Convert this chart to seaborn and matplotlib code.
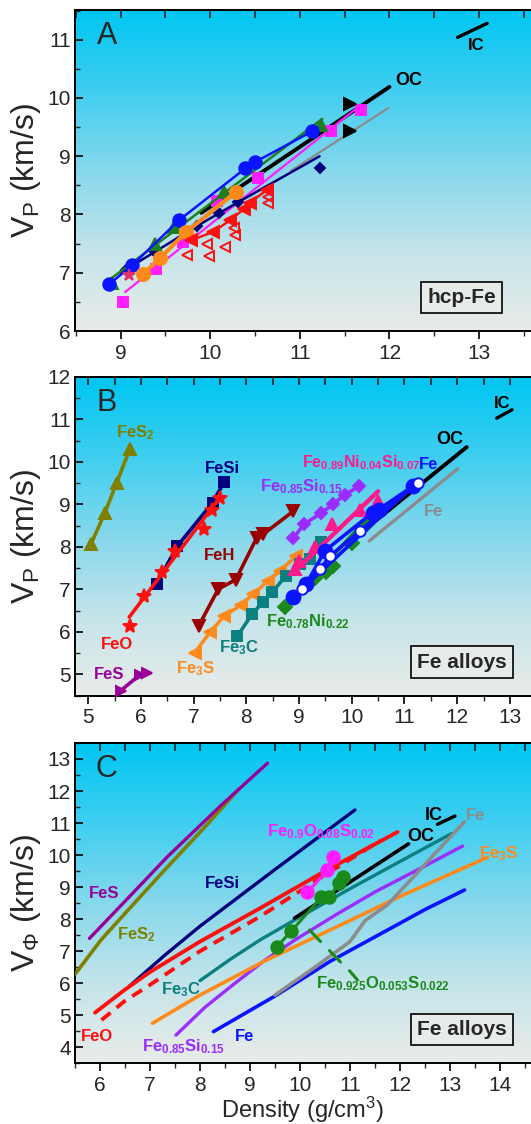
import numpy as np
import matplotlib
matplotlib.use('Agg')
import matplotlib.pyplot as plt
from matplotlib.colors import LinearSegmentedColormap
from matplotlib.ticker import MultipleLocator
import seaborn as sns

sns.set_theme(style='ticks')
plt.rcParams['font.family'] = ['Liberation Sans', 'DejaVu Sans']
plt.rcParams['mathtext.fontset'] = 'custom'
plt.rcParams['mathtext.rm'] = 'Liberation Sans'
plt.rcParams['mathtext.bf'] = 'Liberation Sans:bold'
plt.rcParams['mathtext.it'] = 'Liberation Sans:italic'
plt.rcParams['mathtext.default'] = 'bf'

# ---------------- Panel A: hcp-Fe ----------------
a_blue_x = [8.87, 9.13, 9.65, 10.39, 10.50, 11.14]
a_blue_y = [6.80, 7.13, 7.90, 8.79, 8.90, 9.43]
a_green_line_x = [8.85, 11.25]
a_green_line_y = [6.85, 9.64]
a_green_x = [8.90, 9.38, 9.60, 10.15, 11.24]
a_green_y = [6.82, 7.50, 7.79, 8.39, 9.53]
a_mag_x = [9.03, 9.39, 9.70, 10.08, 10.53, 11.35, 11.68]
a_mag_y = [6.49, 7.06, 7.52, 8.23, 8.62, 9.43, 9.79]
a_mag_line_x = [9.05, 11.68]
a_mag_line_y = [6.67, 9.88]
a_orange_x = [9.25, 9.44, 9.73, 10.29]
a_orange_y = [6.98, 7.25, 7.70, 8.39]
a_navy_x = [9.06, 9.37, 9.85, 10.10, 10.31]
a_navy_y = [7.05, 7.37, 7.80, 8.03, 8.22]
a_navy_line_x = [9.00, 9.85, 10.31, 11.22]
a_navy_line_y = [7.00, 7.80, 8.21, 9.00]
a_navy_extra_x = [11.22]
a_navy_extra_y = [8.79]
a_black_tri_x = [11.56, 11.56]
a_black_tri_y = [9.89, 9.44]
a_red_x = [9.79, 10.03, 10.22, 10.38, 10.44, 10.63]
a_red_y = [7.56, 7.70, 7.90, 8.10, 8.20, 8.42]
a_red_open_x = [9.74, 9.96, 9.99, 10.17, 10.27, 10.28, 10.65, 10.65]
a_red_open_y = [7.30, 7.49, 7.29, 7.45, 7.76, 7.65, 8.30, 8.19]
a_star_x = [9.09]
a_star_y = [6.97]
a_oc_x = [9.90, 12.00]
a_oc_y = [8.03, 10.19]
a_gray_x = [10.90, 11.99]
a_gray_y = [8.75, 9.83]
a_ic_x = [12.76, 13.09]
a_ic_y = [11.04, 11.28]

# ---------------- Panel B: Fe alloys, Vp ----------------
b_fes2_x = [5.05, 5.32, 5.54, 5.79]
b_fes2_y = [8.06, 8.81, 9.51, 10.30]
b_fesi_x = [6.30, 6.69, 7.36, 7.575]
b_fesi_y = [7.13, 8.02, 9.04, 9.52]
b_feo_x = [5.80, 6.06, 6.41, 6.645, 7.195, 7.34, 7.51]
b_feo_y = [6.15, 6.84, 7.40, 7.91, 8.43, 8.88, 9.16]
b_feo_line_x = [5.78, 7.52]
b_feo_line_y = [6.35, 9.20]
b_fes_x = [5.62, 5.98, 6.11]
b_fes_y = [4.62, 4.99, 5.04]
b_feh_x = [7.10, 7.47, 7.80, 8.20, 8.32, 8.89]
b_feh_y = [6.15, 7.01, 7.23, 8.22, 8.30, 8.84]
b_fe3s_x = [7.02, 7.31, 7.58, 7.89, 8.13, 8.41, 8.64, 8.95]
b_fe3s_y = [5.51, 5.99, 6.37, 6.63, 6.89, 7.20, 7.44, 7.79]
b_fe3c_x = [7.83, 8.11, 8.32, 8.49, 8.75, 9.02, 9.20, 9.41]
b_fe3c_y = [5.90, 6.42, 6.71, 6.93, 7.32, 7.59, 7.71, 8.12]
b_fenisi_x = [8.92, 9.00, 9.30, 9.62, 10.16, 10.50]
b_fenisi_y = [7.48, 7.67, 7.99, 8.53, 8.88, 9.08]
b_fenisi_line_x = [8.90, 10.50]
b_fenisi_line_y = [7.40, 9.31]
b_fesi15_x = [8.89, 9.09, 9.41, 9.64, 9.87, 10.14]
b_fesi15_y = [8.20, 8.53, 8.79, 9.00, 9.23, 9.43]
b_fe_x = [8.89, 9.14, 9.49, 10.40, 10.51, 11.16]
b_fe_y = [6.81, 7.13, 7.91, 8.81, 8.88, 9.43]
b_fe_open_x = [9.06, 9.40, 9.59, 10.15, 11.26]
b_fe_open_y = [7.01, 7.48, 7.79, 8.37, 9.51]
b_feni_x = [8.73, 9.30, 9.52, 9.65, 10.00, 10.28]
b_feni_y = [6.58, 7.28, 7.40, 7.55, 8.10, 8.53]
b_feni_line_x = [8.70, 10.40]
b_feni_line_y = [6.55, 8.80]
b_oc_x = [9.90, 12.18]
b_oc_y = [8.06, 10.35]
b_gray_x = [10.33, 12.01]
b_gray_y = [8.14, 9.84]
b_ic_x = [12.75, 13.04]
b_ic_y = [11.03, 11.23]

# ---------------- Panel C: Fe alloys, V_phi ----------------
c_fes_x = [5.79, 6.60, 7.35, 8.40, 9.35]
c_fes_y = [7.40, 8.72, 9.95, 11.52, 12.87]
c_fes2_x = [5.50, 6.02, 6.70, 7.35, 8.10, 8.77]
c_fes2_y = [6.28, 7.35, 8.52, 9.63, 10.88, 12.05]
c_fesi_x = [6.59, 7.30, 8.00, 9.50, 11.10]
c_fesi_y = [5.91, 6.88, 7.78, 9.55, 11.41]
c_feo_x = [5.90, 6.50, 7.00, 8.00, 9.20, 10.50, 11.95]
c_feo_y = [5.08, 5.80, 6.35, 7.30, 8.34, 9.50, 10.72]
c_feo_dash_x = [6.03, 6.50, 7.00, 8.00, 9.20, 10.40, 11.60]
c_feo_dash_y = [4.85, 5.45, 5.95, 7.00, 8.08, 9.28, 10.45]
c_fe3c_x = [8.00, 8.60, 9.20, 10.00, 11.00, 12.00, 13.03]
c_fe3c_y = [6.08, 6.74, 7.35, 8.07, 8.95, 9.80, 10.67]
c_fesi15_x = [7.52, 8.10, 8.70, 9.30, 9.90, 10.70, 11.50, 12.40, 13.25]
c_fesi15_y = [4.38, 5.25, 6.00, 6.72, 7.35, 8.12, 8.85, 9.58, 10.28]
c_fe3s_x = [7.05, 8.00, 9.30, 10.60, 12.10, 13.75]
c_fe3s_y = [4.75, 5.63, 6.70, 7.66, 8.78, 9.93]
c_fe_x = [8.27, 9.50, 10.60, 11.75, 12.50, 13.29]
c_fe_y = [4.49, 5.60, 6.68, 7.66, 8.30, 8.91]
c_gray_x = [9.50, 10.30, 11.00, 11.30, 11.75, 12.20, 12.70, 13.29]
c_gray_y = [5.63, 6.50, 7.30, 7.95, 8.45, 9.20, 10.05, 11.04]
c_oc_x = [9.89, 12.17]
c_oc_y = [8.03, 10.35]
c_ic_x = [12.75, 13.10]
c_ic_y = [10.96, 11.22]
c_feos_x = [10.15, 10.55, 10.67]
c_feos_y = [8.84, 9.53, 9.95]
c_feos2_x = [9.54, 9.82, 10.43, 10.59, 10.79, 10.86]
c_feos2_y = [7.14, 7.62, 8.68, 8.70, 9.14, 9.32]
c_tick1_x = [10.19, 10.41]
c_tick1_y = [7.66, 7.30]
c_tick2_x = [10.59, 10.81]
c_tick2_y = [7.02, 6.66]
c_tick3_x = [10.99, 11.15]
c_tick3_y = [6.39, 6.10]

BLUE = '#0a14ff'
GREEN = '#1f7f1f'
NAVY = '#00007f'
MAG = '#ff1cff'
ORANGE = '#ff8a1c'
RED = '#ff1010'
GRAY = '#8c8c8c'
OLIVE = '#808000'
PURPLE = '#990099'
DRED = '#990000'
TEAL = '#0b8080'
PINK = '#ff1a8c'
VIOLET = '#9b2cff'
FGREEN = '#1a8a1a'

bg = LinearSegmentedColormap.from_list(
    'bg', ['#e9ece8', '#c4e4ea', '#86d8ec', '#3fcef0', '#00c6f2'])


def curve(ax, x, y, color, lw=2.0, ls='-', marker=None, ms=7, mfc=None, z=3):
    sns.lineplot(x=x, y=y, ax=ax, color=color, lw=lw, ls=ls, marker=marker,
                 ms=ms, mfc=color if mfc is None else mfc, mec=color, mew=1.4,
                 estimator=None, sort=False, legend=False, zorder=z)


def label(ax, x, y, s, color, size=12, ha='left'):
    ax.text(x, y, s, color=color, fontsize=size, fontweight='bold',
            family='Liberation Sans', ha=ha, va='center', zorder=6)


def style_axes(ax, xlim, ylim, letter, boxtext, ylabel):
    ax.imshow(np.linspace(0, 1, 256)[:, None], extent=[0, 1, 0, 1],
              transform=ax.transAxes, aspect='auto', cmap=bg, origin='lower',
              zorder=0)
    ax.set_xlim(*xlim)
    ax.set_ylim(*ylim)
    ax.xaxis.set_major_locator(MultipleLocator(1))
    ax.xaxis.set_minor_locator(MultipleLocator(0.5))
    ax.yaxis.set_major_locator(MultipleLocator(1))
    ax.yaxis.set_minor_locator(MultipleLocator(0.5))
    ax.tick_params(axis='both', which='major', labelsize=15, length=6,
                   width=1.2, color='black', pad=3)
    ax.tick_params(axis='both', which='minor', length=3.5, width=1.0)
    ax.tick_params(axis='y', which='both', direction='in')
    ax.tick_params(axis='x', which='both', direction='out', top=False)
    for sp in ['left', 'bottom', 'top']:
        ax.spines[sp].set_linewidth(1.4)
        ax.spines[sp].set_color('black')
    ax.spines['right'].set_visible(False)
    # inward ticks along the top edge
    top = ax.secondary_xaxis('top')
    top.xaxis.set_major_locator(MultipleLocator(1))
    top.xaxis.set_minor_locator(MultipleLocator(0.5))
    top.tick_params(which='both', direction='in', labeltop=False, width=1.2)
    top.tick_params(which='major', length=6)
    top.tick_params(which='minor', length=6)
    top.spines['top'].set_linewidth(1.4)
    ax.set_ylabel(ylabel, fontsize=23, labelpad=3)
    ax.text(0.07, 0.918, letter, transform=ax.transAxes, fontsize=22,
            family='Liberation Sans', ha='center', va='center', zorder=6)
    ax.text(0.848, 0.105, boxtext, transform=ax.transAxes, fontsize=15,
            fontweight='bold', family='Liberation Sans', ha='center',
            va='center', zorder=6,
            bbox=dict(boxstyle='square,pad=0.3', fc='#e8ece8', ec='black', lw=1.2))


fig = plt.figure(figsize=(5.31, 11.24), dpi=100)
axA = fig.add_axes([0.1412, 0.7055, 0.8588, 0.2856])
axB = fig.add_axes([0.1412, 0.3811, 0.8588, 0.2835])
axC = fig.add_axes([0.1412, 0.0540, 0.8588, 0.2850])

# ---- A ----
style_axes(axA, (8.49, 13.58), (6, 11.51), 'A', 'hcp-Fe', r'V$_{\mathrm{P}}$ (km/s)')
curve(axA, a_gray_x, a_gray_y, GRAY, lw=1.6)
curve(axA, a_oc_x, a_oc_y, 'black', lw=2.8)
curve(axA, a_ic_x, a_ic_y, 'black', lw=2.4)
curve(axA, a_mag_line_x, a_mag_line_y, MAG, lw=1.6)
curve(axA, a_mag_x, a_mag_y, MAG, lw=0, marker='s', ms=7)
curve(axA, a_navy_line_x, a_navy_line_y, NAVY, lw=1.8)
curve(axA, a_navy_x, a_navy_y, NAVY, lw=0, marker='D', ms=5.5)
curve(axA, a_navy_extra_x, a_navy_extra_y, NAVY, lw=0, marker='D', ms=5.5)
curve(axA, a_green_line_x, a_green_line_y, GREEN, lw=1.8)
curve(axA, a_green_x, a_green_y, GREEN, lw=0, marker='^', ms=8)
curve(axA, a_blue_x, a_blue_y, BLUE, lw=1.8, marker='o', ms=9)
curve(axA, a_orange_x, a_orange_y, ORANGE, lw=3.0, marker='o', ms=9.5)
curve(axA, a_red_x, a_red_y, RED, lw=1.8, marker='<', ms=8)
curve(axA, a_red_open_x, a_red_open_y, RED, lw=0, marker='<', ms=7.5, mfc='none')
curve(axA, a_black_tri_x, a_black_tri_y, 'black', lw=0, marker='>', ms=8)
curve(axA, a_star_x, a_star_y, '#e0306e', lw=0, marker='*', ms=9)
label(axA, 12.06, 10.30, 'OC', 'black', size=13)
label(axA, 12.97, 10.90, 'IC', 'black', size=12, ha='center')

# ---- B ----
style_axes(axB, (4.75, 13.4), (4.5, 12), 'B', 'Fe alloys', r'V$_{\mathrm{P}}$ (km/s)')
curve(axB, b_gray_x, b_gray_y, GRAY, lw=2.4)
curve(axB, b_oc_x, b_oc_y, 'black', lw=2.8)
curve(axB, b_ic_x, b_ic_y, 'black', lw=2.4)
curve(axB, b_fes2_x, b_fes2_y, OLIVE, lw=2.6, marker='^', ms=8)
curve(axB, b_fesi_x, b_fesi_y, NAVY, lw=2.6, marker='s', ms=7)
curve(axB, b_feo_line_x, b_feo_line_y, RED, lw=2.6)
curve(axB, b_feo_x, b_feo_y, RED, lw=0, marker='*', ms=10)
curve(axB, b_fes_x, b_fes_y, PURPLE, lw=2.6, marker='>', ms=6.5)
curve(axB, b_feh_x, b_feh_y, DRED, lw=2.6, marker='v', ms=9)
curve(axB, b_fe3s_x, b_fe3s_y, ORANGE, lw=2.6, marker='<', ms=8)
curve(axB, b_fe3c_x, b_fe3c_y, TEAL, lw=2.6, marker='s', ms=7)
curve(axB, b_fesi15_x, b_fesi15_y, VIOLET, lw=2.6, marker='D', ms=6.5)
curve(axB, b_fenisi_line_x, b_fenisi_line_y, PINK, lw=3.2)
curve(axB, b_fenisi_x, b_fenisi_y, PINK, lw=0, marker='^', ms=9)
curve(axB, b_feni_line_x, b_feni_line_y, FGREEN, lw=2.8)
curve(axB, b_feni_x, b_feni_y, FGREEN, lw=0, marker='D', ms=7)
curve(axB, b_fe_x + b_fe_open_x, b_fe_y + b_fe_open_y, BLUE, lw=2.6)
curve(axB, b_fe_x, b_fe_y, BLUE, lw=0, marker='o', ms=10)
curve(axB, b_fe_open_x, b_fe_open_y, BLUE, lw=0, marker='o', ms=7.5, mfc='white', z=4)
label(axB, 5.52, 10.68, r'FeS$_{2}$', OLIVE)
label(axB, 7.21, 9.84, 'FeSi', NAVY)
label(axB, 9.05, 9.99, r'Fe$_{0.89}$Ni$_{0.04}$Si$_{0.07}$', PINK, size=11.5)
label(axB, 8.26, 9.43, r'Fe$_{0.85}$Si$_{0.15}$', VIOLET)
label(axB, 11.28, 9.95, 'Fe', BLUE)
label(axB, 11.61, 10.52, 'OC', 'black', size=13)
label(axB, 11.36, 8.84, 'Fe', GRAY)
label(axB, 12.85, 11.38, 'IC', 'black', size=12, ha='center')
label(axB, 7.195, 7.79, 'FeH', DRED)
label(axB, 5.24, 5.70, 'FeO', RED)
label(axB, 5.10, 4.99, 'FeS', PURPLE)
label(axB, 6.66, 5.13, r'Fe$_{3}$S', ORANGE)
label(axB, 7.48, 5.63, r'Fe$_{3}$C', TEAL)
label(axB, 8.37, 6.23, r'Fe$_{0.78}$Ni$_{0.22}$', FGREEN)

# ---- C ----
style_axes(axC, (5.5, 14.62), (3.5, 13.5), 'C', 'Fe alloys', r'V$_{\mathrm{\Phi}}$ (km/s)')
curve(axC, c_fes2_x, c_fes2_y, OLIVE, lw=2.6)
curve(axC, c_fes_x, c_fes_y, PURPLE, lw=2.4)
curve(axC, c_fesi_x, c_fesi_y, NAVY, lw=2.4)
curve(axC, c_feo_x, c_feo_y, RED, lw=2.8)
curve(axC, c_feo_dash_x, c_feo_dash_y, RED, lw=2.8, ls=(0, (3, 2)))
curve(axC, c_fe3c_x, c_fe3c_y, TEAL, lw=2.4)
curve(axC, c_fesi15_x, c_fesi15_y, VIOLET, lw=2.4)
curve(axC, c_fe3s_x, c_fe3s_y, ORANGE, lw=2.6)
curve(axC, c_fe_x, c_fe_y, BLUE, lw=2.6)
curve(axC, c_gray_x, c_gray_y, GRAY, lw=2.6)
curve(axC, c_oc_x, c_oc_y, 'black', lw=2.6)
curve(axC, c_ic_x, c_ic_y, 'black', lw=2.4)
curve(axC, c_feos_x, c_feos_y, MAG, lw=2.2, marker='o', ms=9)
curve(axC, c_feos2_x, c_feos2_y, FGREEN, lw=2.2, marker='o', ms=9)
for tx, ty in [(c_tick1_x, c_tick1_y), (c_tick2_x, c_tick2_y), (c_tick3_x, c_tick3_y)]:
    curve(axC, tx, ty, FGREEN, lw=2.2)
label(axC, 5.77, 8.81, 'FeS', PURPLE)
label(axC, 6.35, 7.51, r'FeS$_{2}$', OLIVE)
label(axC, 8.10, 9.12, 'FeSi', NAVY)
label(axC, 5.62, 4.34, 'FeO', RED)
label(axC, 7.22, 5.79, r'Fe$_{3}$C', TEAL)
label(axC, 6.85, 4.02, r'Fe$_{0.85}$Si$_{0.15}$', VIOLET)
label(axC, 8.69, 4.35, 'Fe', BLUE)
label(axC, 9.35, 10.73, r'Fe$_{0.9}$O$_{0.08}$S$_{0.02}$', MAG)
label(axC, 12.14, 10.57, 'OC', 'black', size=13)
label(axC, 12.50, 11.25, 'IC', 'black', size=13)
label(axC, 13.32, 11.25, 'Fe', GRAY)
label(axC, 13.59, 10.06, r'Fe$_{3}$S', ORANGE)
label(axC, 10.32, 6.00, r'Fe$_{0.925}$O$_{0.053}$S$_{0.022}$', FGREEN)
axC.set_xlabel(r'Density (g/cm$^{\mathrm{3}}$)', fontsize=17, labelpad=0)

fig.savefig('out.png', dpi=100)
